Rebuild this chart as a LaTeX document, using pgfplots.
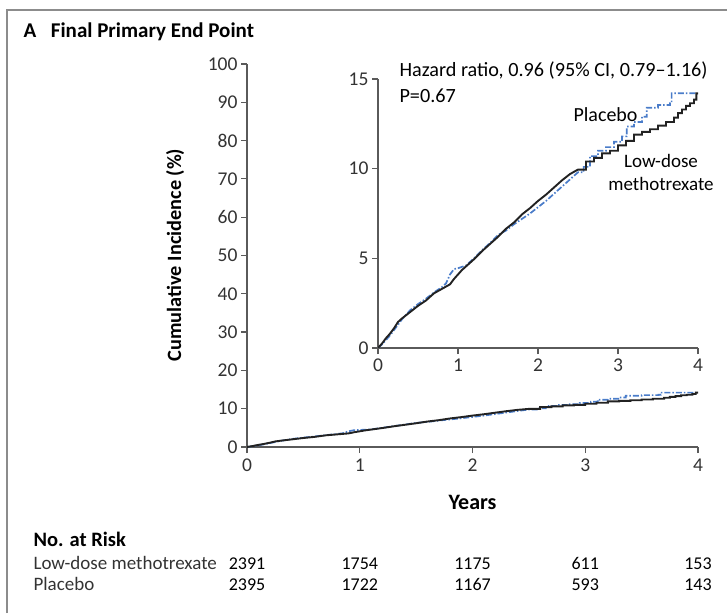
\documentclass[border=0pt]{standalone}
\usepackage{pgfplots}
\usepackage{pgfplotstable}
\pgfplotsset{compat=1.18}
\usepackage{fontspec}
\setmainfont{Carlito}
\definecolor{mtx}{HTML}{222222}
\definecolor{pbo}{HTML}{4A7CC9}
\definecolor{axc}{HTML}{5A5A5A}
\definecolor{txt}{HTML}{333333}
\definecolor{frm}{HTML}{8C8C8C}

\pgfplotstableread{
x y
0 0
0.05 0.25
0.10 0.55
0.15 0.8
0.20 1.1
0.25 1.45
0.30 1.65
0.40 2.0
0.50 2.35
0.60 2.65
0.70 3.05
0.80 3.3
0.90 3.55
0.95 3.85
1.00 4.1
1.05 4.35
1.10 4.55
1.20 4.95
1.30 5.4
1.40 5.8
1.50 6.2
1.60 6.65
1.70 7.0
1.80 7.45
1.90 7.8
2.00 8.2
2.10 8.55
2.20 8.95
2.30 9.35
2.40 9.7
2.50 9.95
2.60 9.95
2.60 10.4
2.70 10.4
2.70 10.6
2.80 10.6
2.80 10.85
2.90 10.85
2.90 11.0
3.00 11.0
3.00 11.3
3.10 11.3
3.10 11.55
3.20 11.55
3.20 11.9
3.30 11.9
3.30 12.05
3.40 12.05
3.40 12.2
3.50 12.2
3.50 12.4
3.60 12.4
3.60 12.6
3.70 12.6
3.70 12.85
3.75 12.85
3.75 13.1
3.80 13.1
3.80 13.3
3.85 13.3
3.85 13.5
3.90 13.5
3.90 13.65
3.95 13.65
3.95 13.85
3.98 13.85
3.98 14.2
4.00 14.2
}\mtxdata

\pgfplotstableread{
x y
0 0
0.05 0.2
0.10 0.45
0.15 0.7
0.20 1.0
0.30 1.6
0.40 2.1
0.50 2.45
0.60 2.75
0.70 3.1
0.80 3.4
0.85 3.6
0.90 4.1
0.95 4.4
1.00 4.45
1.10 4.6
1.20 5.0
1.30 5.45
1.40 5.85
1.50 6.3
1.60 6.55
1.70 6.9
1.80 7.2
1.90 7.5
2.00 7.85
2.10 8.2
2.20 8.6
2.30 9.0
2.40 9.4
2.50 9.8
2.57 9.8
2.57 10.1
2.65 10.1
2.65 10.7
2.75 10.7
2.75 11.0
2.85 11.0
2.85 11.2
2.95 11.2
2.95 11.5
3.05 11.5
3.05 11.8
3.11 11.8
3.11 12.35
3.20 12.35
3.20 12.6
3.30 12.6
3.30 12.9
3.36 12.9
3.36 13.4
3.50 13.4
3.50 13.55
3.65 13.55
3.65 13.65
3.67 13.65
3.67 14.2
3.98 14.2
}\pbodata

\begin{document}
\begin{tikzpicture}[font=\fontsize{19}{22}\selectfont\color{txt}]
\useasboundingbox (0,0) rectangle (727pt,613pt);
\draw[frm, line width=2pt] (7pt,0) -- (7pt,603pt) -- (727pt,603pt);
\node[anchor=base west, font=\fontsize{21}{24}\selectfont\bfseries, text=black] at (20pt,575pt) {A\hspace{0.7em}Final Primary End Point};

\pgfplotsset{km/.style={scale only axis, axis x line*=bottom, axis y line*=left,
  tick align=outside, major tick length=6pt,
  axis line style={axc, line width=1.2pt}, tick style={axc, line width=1.2pt},
  /pgf/number format/assume math mode=true,
  ticklabel style={font=\fontsize{19.5}{21}\selectfont, text=txt},
  xticklabel style={yshift=-2pt},
  xmin=0, xmax=4, xtick={0,1,2,3,4}},
  mtxline/.style={mtx, line width=1.9pt, no marks, line join=miter},
  pboline/.style={pbo, line width=1.7pt, no marks, dash pattern=on 6pt off 2pt on 1.5pt off 2pt}}

\begin{axis}[km, at={(247pt,166pt)}, anchor=south west, width=451pt, height=383pt,
  ymin=0, ymax=100, ytick={0,10,...,100}]
\addplot[pboline] table[x=x,y=y] {\pbodata};
\addplot[mtxline] table[x=x,y=y] {\mtxdata};
\end{axis}

\begin{axis}[km, at={(378pt,265pt)}, anchor=south west, width=320pt, height=269pt,
  ymin=0, ymax=15, ytick={0,5,10,15}, xticklabel style={yshift=1pt}]
\addplot[pboline] table[x=x,y=y] {\pbodata};
\addplot[mtxline] table[x=x,y=y] {\mtxdata};
\end{axis}

\node[rotate=90, font=\fontsize{20.3}{22}\selectfont\bfseries] at (175pt,358pt) {Cumulative Incidence (\%)};
\node[font=\fontsize{22}{24}\selectfont\bfseries] at (472.5pt,111pt) {Years};

\node[anchor=west, font=\fontsize{20.2}{22}\selectfont] at (396pt,542pt) {Hazard ratio, 0.96 (95\% CI, 0.79–1.16)};
\node[anchor=west, font=\fontsize{20.2}{22}\selectfont] at (396pt,517pt) {P=0.67};
\node[anchor=west, font=\fontsize{20}{22}\selectfont] at (570pt,498pt) {Placebo};
\node[align=center, font=\fontsize{19}{23}\selectfont] at (661pt,441pt) {Low-dose\\methotrexate};

\node[anchor=base west, font=\fontsize{20.5}{22}\selectfont\bfseries, text=black] at (30pt,67pt) {No. at Risk};
\node[anchor=base west] at (30pt,44pt) {Low-dose methotrexate};
\node[anchor=base west] at (30pt,23pt) {Placebo};
\foreach \xx/\a/\b in {247/2391/2395, 359.75/1754/1722, 472.5/1175/1167, 585.25/611/593, 698/153/143}{
  \node[anchor=base, font=\fontsize{18}{20}\selectfont] at (\xx pt,44pt) {\a};
  \node[anchor=base, font=\fontsize{18}{20}\selectfont] at (\xx pt,23pt) {\b};
}
\end{tikzpicture}
\end{document}
